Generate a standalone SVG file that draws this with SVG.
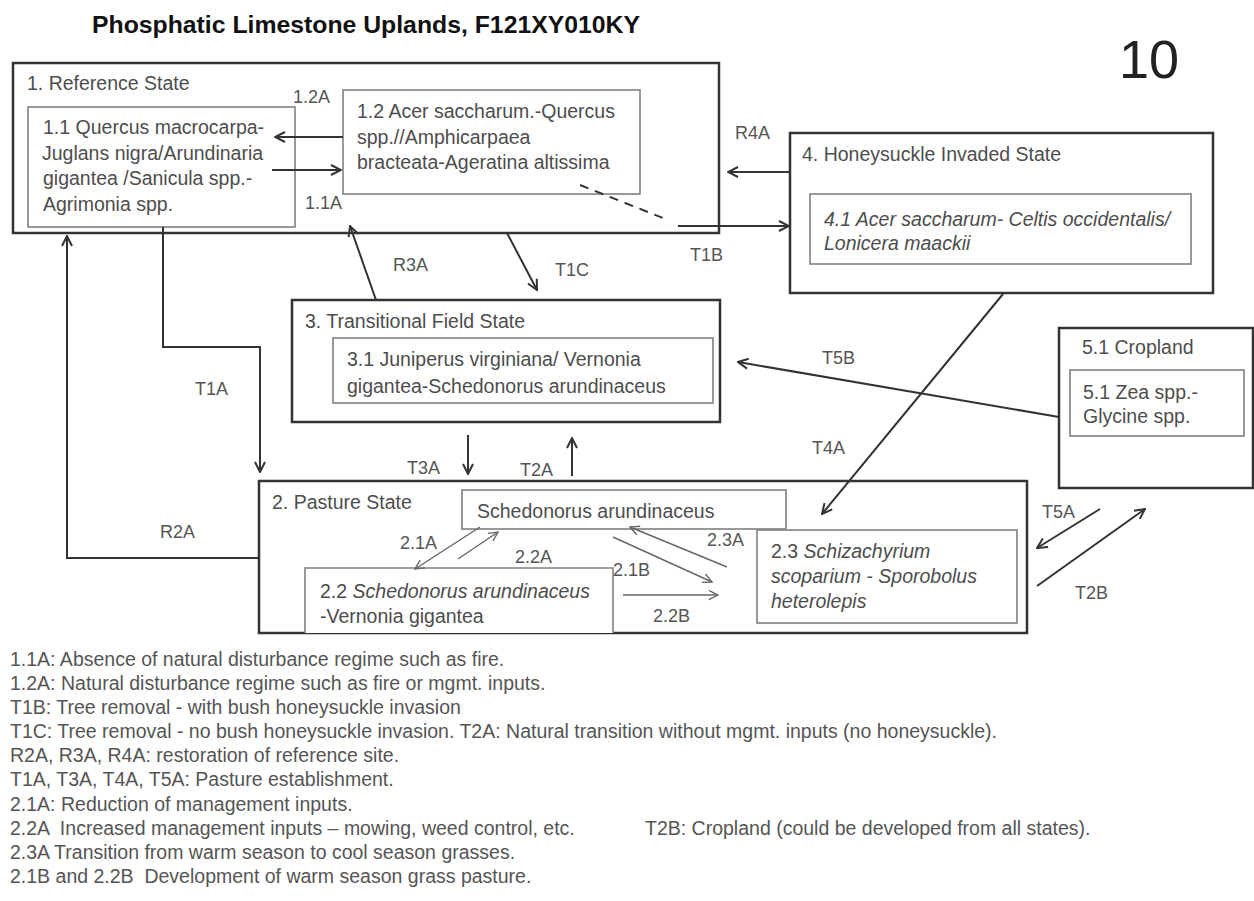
<svg xmlns="http://www.w3.org/2000/svg" width="1254" height="901" viewBox="0 0 1254 901">
<defs>
<style>
text{font-family:"Liberation Sans",Arial,sans-serif;fill:#4d4d4d}
.title{font-size:24.5px;font-weight:bold;fill:#111}
.big{font-size:54px;fill:#222}
.t{font-size:19.5px}
.lbl{font-size:18px;fill:#555}
.leg{font-size:19.5px;fill:#555}
.it{font-style:italic}
.outer{fill:#fff;stroke:#333;stroke-width:2.5}
.inner{fill:#fff;stroke:#808080;stroke-width:1.6}
.c{fill:none;stroke:#333;stroke-width:2}
.cs{fill:none;stroke:#666;stroke-width:1.4}
</style>
<marker id="ah" viewBox="0 0 12 12" refX="11" refY="6" markerWidth="12" markerHeight="12" markerUnits="userSpaceOnUse" orient="auto">
<path d="M1,1 L11,6 L1,11" fill="none" stroke="#333" stroke-width="2"/>
</marker>
<marker id="ahs" viewBox="0 0 12 12" refX="11" refY="6" markerWidth="11" markerHeight="11" markerUnits="userSpaceOnUse" orient="auto">
<path d="M1,1 L11,6 L1,11" fill="none" stroke="#666" stroke-width="1.5"/>
</marker>
</defs>
<rect width="1254" height="901" fill="#fff"/>
<text class="title" x="92" y="33" textLength="548" lengthAdjust="spacingAndGlyphs">Phosphatic Limestone Uplands, F121XY010KY</text>
<text class="big" x="1119" y="78">10</text>

<g id="state1">
<rect class="outer" x="13" y="63" width="706" height="170"/>
<text class="t" x="27" y="90">1. Reference State</text>
</g>
<g id="community11">
<rect class="inner" x="28" y="107" width="267" height="120"/>
<text class="t" x="43" y="134">1.1 Quercus macrocarpa-</text>
<text class="t" x="42" y="160">Juglans nigra/Arundinaria</text>
<text class="t" x="43" y="185">gigantea /Sanicula spp.-</text>
<text class="t" x="43" y="211">Agrimonia spp.</text>
</g>
<g id="community12">
<rect class="inner" x="343" y="90" width="297" height="104"/>
<text class="t" x="357" y="118">1.2 Acer saccharum.-Quercus</text>
<text class="t" x="357" y="144">spp.//Amphicarpaea</text>
<text class="t" x="357" y="169">bracteata-Ageratina altissima</text>
</g>

<g id="state4">
<rect class="outer" x="790" y="133" width="423" height="160"/>
<text class="t" x="802" y="161">4. Honeysuckle Invaded State</text>
</g>
<g id="community41">
<rect class="inner" x="810" y="194" width="381" height="70"/>
<text class="t it" x="824" y="226">4.1 Acer saccharum- Celtis occidentalis/</text>
<text class="t it" x="824" y="250">Lonicera maackii</text>
</g>

<g id="state3">
<rect class="outer" x="292" y="300" width="428" height="122"/>
<text class="t" x="305" y="328">3. Transitional Field State</text>
</g>
<g id="community31">
<rect class="inner" x="333" y="338" width="380" height="65"/>
<text class="t" x="347" y="366">3.1 Juniperus virginiana/ Vernonia</text>
<text class="t" x="347" y="393">gigantea-Schedonorus arundinaceus</text>
</g>

<g id="state5">
<rect class="outer" x="1059" y="328" width="194" height="160" stroke-width="2"/>
<text class="t" x="1082" y="354">5.1 Cropland</text>
</g>
<g id="community51">
<rect class="inner" x="1070" y="370" width="174" height="66"/>
<text class="t" x="1083" y="399">5.1 Zea spp.-</text>
<text class="t" x="1083" y="423">Glycine spp.</text>
</g>

<g id="state2">
<rect class="outer" x="259" y="481" width="768" height="152"/>
<text class="t" x="272" y="509">2. Pasture State</text>
</g>
<g id="community21">
<rect class="inner" x="462" y="490" width="324" height="39"/>
<text class="t" x="477" y="518">Schedonorus arundinaceus</text>
</g>
<g id="community22">
<path class="inner" d="M305,633 V568 H613 V633"/>
<text class="t" x="320" y="598">2.2 <tspan class="it">Schedonorus arundinaceus</tspan></text>
<text class="t" x="320" y="623">-Vernonia gigantea</text>
</g>
<g id="community23">
<rect class="inner" x="757" y="530" width="260" height="93"/>
<text class="t" x="771" y="558">2.3 <tspan class="it">Schizachyrium</tspan></text>
<text class="t it" x="771" y="583">scoparium - Sporobolus</text>
<text class="t it" x="771" y="608">heterolepis</text>
</g>

<g id="connectors">
<line class="c" x1="343" y1="137" x2="275" y2="137" marker-end="url(#ah)"/>
<line class="c" x1="272" y1="170" x2="341" y2="170" marker-end="url(#ah)"/>
<line x1="580" y1="185" x2="668" y2="220" stroke="#333" stroke-width="2" stroke-dasharray="9,7"/>
<line class="c" x1="678" y1="226" x2="789" y2="226" marker-end="url(#ah)"/>
<line class="c" x1="790" y1="172" x2="728" y2="172" marker-end="url(#ah)"/>
<line class="c" x1="376" y1="300" x2="350" y2="226" marker-end="url(#ah)"/>
<line class="c" x1="507" y1="233" x2="537" y2="290" marker-end="url(#ah)"/>
<polyline class="c" points="163,227 163,347 260,347 260,472" marker-end="url(#ah)"/>
<polyline class="c" points="258,558 67,558 67,236" marker-end="url(#ah)"/>
<line class="c" x1="468" y1="435" x2="468" y2="474" marker-end="url(#ah)"/>
<line class="c" x1="572" y1="476" x2="572" y2="438" marker-end="url(#ah)"/>
<line class="c" x1="1059" y1="417" x2="738" y2="362" stroke-width="1.6" marker-end="url(#ah)"/>
<line class="c" x1="1003" y1="294" x2="822" y2="514" marker-end="url(#ah)"/>
<line class="c" x1="1100" y1="509" x2="1037" y2="548" marker-end="url(#ah)"/>
<line class="c" x1="1037" y1="586" x2="1145" y2="509" marker-end="url(#ah)"/>
<line class="cs" x1="480" y1="527" x2="415" y2="569" marker-end="url(#ahs)"/>
<line class="cs" x1="458" y1="559" x2="498" y2="532" marker-end="url(#ahs)"/>
<line class="cs" x1="613" y1="537" x2="712" y2="582" marker-end="url(#ahs)"/>
<line class="cs" x1="727" y1="567" x2="630" y2="527" marker-end="url(#ahs)"/>
<line class="cs" x1="623" y1="595" x2="718" y2="595" marker-end="url(#ahs)"/>
</g>

<g id="connector-labels">
<text class="lbl" x="293" y="103">1.2A</text>
<text class="lbl" x="305" y="209">1.1A</text>
<text class="lbl" x="735" y="139">R4A</text>
<text class="lbl" x="690" y="261">T1B</text>
<text class="lbl" x="393" y="271">R3A</text>
<text class="lbl" x="555" y="276">T1C</text>
<text class="lbl" x="195" y="395">T1A</text>
<text class="lbl" x="160" y="538">R2A</text>
<text class="lbl" x="822" y="364">T5B</text>
<text class="lbl" x="812" y="454">T4A</text>
<text class="lbl" x="1042" y="518">T5A</text>
<text class="lbl" x="1075" y="599">T2B</text>
<text class="lbl" x="407" y="474">T3A</text>
<text class="lbl" x="520" y="476">T2A</text>
<text class="lbl" x="400" y="549">2.1A</text>
<text class="lbl" x="515" y="563">2.2A</text>
<text class="lbl" x="613" y="576">2.1B</text>
<text class="lbl" x="707" y="546">2.3A</text>
<text class="lbl" x="653" y="622">2.2B</text>
</g>

<g id="legend">
<text class="leg" x="10" y="666">1.1A: Absence of natural disturbance regime such as fire.</text>
<text class="leg" x="10" y="690">1.2A: Natural disturbance regime such as fire or mgmt. inputs.</text>
<text class="leg" x="10" y="714">T1B: Tree removal - with bush honeysuckle invasion</text>
<text class="leg" x="10" y="738">T1C: Tree removal - no bush honeysuckle invasion. T2A: Natural transition without mgmt. inputs (no honeysuckle).</text>
<text class="leg" x="10" y="762">R2A, R3A, R4A: restoration of reference site.</text>
<text class="leg" x="10" y="786">T1A, T3A, T4A, T5A: Pasture establishment.</text>
<text class="leg" x="10" y="811">2.1A: Reduction of management inputs.</text>
<text class="leg" x="10" y="835" xml:space="preserve">2.2A  Increased management inputs – mowing, weed control, etc.</text>
<text class="leg" x="645" y="835">T2B: Cropland (could be developed from all states).</text>
<text class="leg" x="10" y="859">2.3A Transition from warm season to cool season grasses.</text>
<text class="leg" x="10" y="883" xml:space="preserve">2.1B and 2.2B  Development of warm season grass pasture.</text>
</g>
</svg>
